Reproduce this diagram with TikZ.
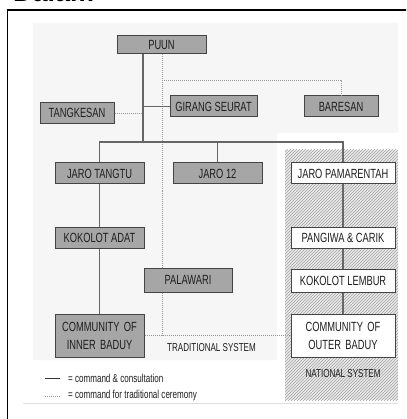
\documentclass[tikz,border=0pt]{standalone}
\usepackage{fontspec}
\setmainfont[FakeStretch=0.70]{Liberation Sans}
\newfontfamily\dalamfont{Liberation Sans}
\usetikzlibrary{patterns}
\definecolor{boxfill}{HTML}{A6A6A6}
\definecolor{boxline}{HTML}{444444}
\definecolor{txt}{HTML}{1E1E1E}
\definecolor{conn}{HTML}{666666}
\definecolor{dotc}{HTML}{999999}
\tikzset{
  gbox/.style={draw=boxline, line width=1pt, fill=boxfill, text=txt, inner sep=0pt,
     font=\fontsize{13.3}{18}\selectfont, align=center},
  wbox/.style={gbox, fill=white},
  solidc/.style={draw=conn, line width=1.1pt},
  dotline/.style={draw=dotc, line width=0.7pt, dash pattern=on 1pt off 1pt},
  lbl/.style={text=txt, font=\fontsize{11.5}{13}\selectfont, inner sep=0pt},
  leg/.style={text=txt, font=\fontsize{11.5}{13}\selectfont, inner sep=0pt, anchor=west}
}
\begin{document}
\begin{tikzpicture}[x=1pt,y=-1pt]
\useasboundingbox (0,0) rectangle (406,419);
\clip (0,0) rectangle (406,419);
% background
\fill[white] (0,0) rectangle (406,419);
\fill[gray!7] (33,23) -- (398,23) -- (398,133) -- (277,133) -- (277,360) -- (33,360) -- cycle;
\fill[gray!18] (285,150) rectangle (398,400);
\fill[pattern=north east lines, pattern color=gray!70] (285,150) rectangle (398,400);
\draw[gray!25, line width=0.8pt] (23,403) -- (398,403);
% frame and title
\node[anchor=base west, inner sep=0pt, font=\dalamfont\bfseries\fontsize{27}{27}\selectfont] (title) at (13,1.5) {Dalam};
\draw[black, line width=1.5pt] (7.5,420) -- (7.5,10) -- (407,10);
% nodes
\node[gbox, minimum width=89pt, minimum height=18pt] (PU) at (161.5,45) {PUUN};
\node[gbox, minimum width=74pt, minimum height=21pt] (TK) at (77,113) {TANGKESAN};
\node[gbox, minimum width=87pt, minimum height=21pt] (GS) at (213.5,106.5) {GIRANG SEURAT};
\node[gbox, minimum width=74pt, minimum height=21pt] (BA) at (341,106.5) {BARESAN};
\node[gbox, minimum width=89pt, minimum height=21pt] (JT) at (99.5,173.5) {JARO TANGTU};
\node[gbox, minimum width=89pt, minimum height=21pt] (J12) at (217.5,173.5) {JARO 12};
\node[wbox, minimum width=104pt, minimum height=21pt] (JP) at (343,173.5) {JARO PAMARENTAH};
\node[gbox, minimum width=89pt, minimum height=21pt] (KA) at (99.5,237.5) {KOKOLOT ADAT};
\node[wbox, minimum width=104pt, minimum height=21pt] (PC) at (343,237.5) {PANGIWA \& CARIK};
\node[wbox, minimum width=104pt, minimum height=23pt] (KL) at (343,280.5) {KOKOLOT LEMBUR};
\node[gbox, minimum width=89pt, minimum height=43pt, text width=85pt] (IN) at (99.5,335.5) {COMMUNITY OF\\INNER BADUY};
\node[wbox, minimum width=104pt, minimum height=43pt, text width=100pt] (OU) at (343,335.5) {COMMUNITY OF\\OUTER BADUY};
% dotted connectors (behind Palawari)
\coordinate (bus) at (143,142);
\coordinate (dtop) at (162,80);
\draw[dotline] (PU.south -| dtop) -- (dtop |- IN.east);
\draw[dotline] (dtop) -- (BA.north |- dtop) -- (BA.north);
\draw[dotline] (IN.east) -- (OU.west);
\draw[dotline] (TK.east) -- (bus |- TK.east);
\node[gbox, minimum width=88pt, minimum height=24pt] (PW) at (188,280) {PALAWARI};
% solid connectors
\draw[solidc] (PU.south -| bus) -- (bus);
\draw[solidc] (bus |- GS.west) -- (GS.west);
\draw[solidc] (JT.north) -- (JT.north |- bus) -- (JP.north |- bus) -- (JP.north);
\draw[solidc] (J12.north) -- (J12.north |- bus);
\draw[solidc] (JT) -- (KA);
\draw[solidc] (KA) -- (IN);
\draw[solidc] (JP) -- (PC);
\draw[solidc] (PC) -- (KL);
\draw[solidc] (KL) -- (OU);
% labels
\node[lbl] (trad) at (211.5,348) {TRADITIONAL SYSTEM};
\node[lbl] (nat) at (343,374) {NATIONAL SYSTEM};
% legend
\coordinate (l1a) at (45,378); \coordinate (l1b) at (60,378);
\coordinate (l2a) at (45,396); \coordinate (l2b) at (60,396);
\draw[draw=black!80, line width=0.9pt] (l1a) -- (l1b);
\draw[dotline] (l2a) -- (l2b);
\node[leg] (leg1) at (68,378) {= command \& consultation};
\node[leg] (leg2) at (68,396) {= command for traditional ceremony};
\end{tikzpicture}
\end{document}
